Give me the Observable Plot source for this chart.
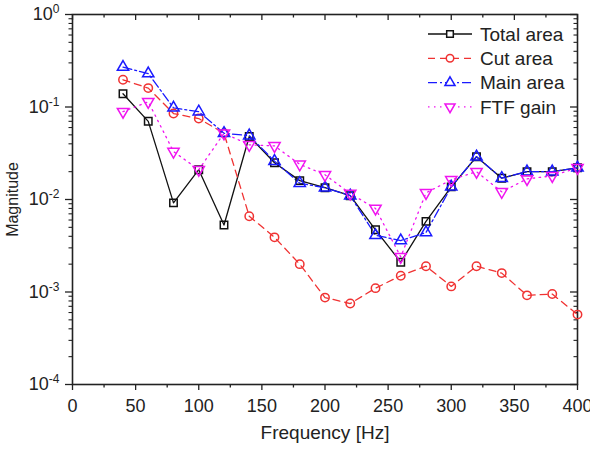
<!DOCTYPE html>
<html>
<head>
<meta charset="utf-8">
<script src="https://cdn.jsdelivr.net/npm/d3@7"></script>
<script src="https://cdn.jsdelivr.net/npm/@observablehq/plot@0.6"></script>
<style>
  html, body { margin: 0; padding: 0; background: #fff; }
  #chart { width: 590px; height: 454px; }
</style>
</head>
<body>
<div id="chart"></div>
<script>
// ---- data ----
const freq = [40, 60, 80, 100, 120, 140, 160, 180, 200, 220, 240, 260, 280, 300, 320, 340, 360, 380, 400];
const totalArea = [0.139, 0.070, 0.0092, 0.021, 0.0053, 0.048, 0.025, 0.016, 0.0134, 0.011, 0.0047, 0.0021, 0.0058, 0.0137, 0.029, 0.017, 0.020, 0.020, 0.022];
const cutArea = [0.197, 0.16, 0.085, 0.075, 0.052, 0.0066, 0.0039, 0.0020, 0.00087, 0.00075, 0.0011, 0.0015, 0.0019, 0.00115, 0.0019, 0.0016, 0.00092, 0.00095, 0.00057];
const mainArea = [0.27, 0.23, 0.098, 0.089, 0.052, 0.049, 0.026, 0.015, 0.0134, 0.011, 0.0041, 0.0036, 0.0044, 0.0137, 0.029, 0.017, 0.020, 0.020, 0.022];
const ftfGain = [0.089, 0.114, 0.033, 0.021, 0.052, 0.039, 0.038, 0.024, 0.0185, 0.0116, 0.0080, 0.0024, 0.0118, 0.0163, 0.020, 0.0121, 0.0167, 0.018, 0.022];

const seriesNames = ["Total area", "Cut area", "Main area", "FTF gain"];
const seriesValues = [totalArea, cutArea, mainArea, ftfGain];

const xTicks = [0, 50, 100, 150, 200, 250, 300, 350, 400];
const xMinorTicks = [25, 75, 125, 175, 225, 275, 325, 375];
const yTicks = [1e-4, 1e-3, 1e-2, 1e-1, 1];
const yTickLabels = ["10|-4", "10|-3", "10|-2", "10|-1", "10|0"];
const xLabel = "Frequency [Hz]";
const yLabel = "Magnitude";

// ---- styles ----
const styles = {
  "Total area": {color: "#111111", dash: null, symbol: "square", rotate: 0, d3sym: d3.symbolSquare},
  "Cut area": {color: "#f03232", dash: "7,5", symbol: "circle", rotate: 0, d3sym: d3.symbolCircle},
  "Main area": {color: "#1a1aff", dash: "9,3,2,3", symbol: "triangle", rotate: 0, d3sym: d3.symbolTriangle},
  "FTF gain": {color: "#f014f0", dash: "1.5,4.5", symbol: "triangle", rotate: 180, d3sym: d3.symbolTriangle}
};

// minor log ticks
const yMinorTicks = [];
for (const p of [1e-4, 1e-3, 1e-2, 1e-1]) for (let k = 2; k <= 9; k++) yMinorTicks.push(+(k * p).toPrecision(3));

const W = 590, H = 454, mL = 72, mR = 13, mT = 14, mB = 70;
const innerW = W - mL - mR, innerH = H - mT - mB;

const seriesMarks = [];
seriesNames.forEach((name, i) => {
  const rows = freq.map((f, j) => ({f, v: seriesValues[i][j]}));
  const s = styles[name];
  seriesMarks.push(Plot.line(rows, {x: "f", y: "v", stroke: s.color, strokeWidth: 1.3, strokeDasharray: s.dash}));
});
seriesNames.forEach((name, i) => {
  const rows = freq.map((f, j) => ({f, v: seriesValues[i][j]}));
  const s = styles[name];
  seriesMarks.push(Plot.dot(rows, {x: "f", y: "v", symbol: s.symbol, r: 4.2, rotate: s.rotate, stroke: s.color, strokeWidth: 1.5, fill: "white", fillOpacity: 0}));
});

const labelMap = new Map(yTicks.map((t, i) => [t, yTickLabels[i]]));

const plot = Plot.plot({
  width: W, height: H,
  marginLeft: mL, marginRight: mR, marginTop: mT, marginBottom: mB,
  style: {fontFamily: "'Liberation Sans', Arial, sans-serif", fontSize: "18px", background: "white", color: "#222"},
  x: {domain: [0, 400]},
  y: {type: "log", domain: [1e-4, 1]},
  marks: [
    // bottom axis
    Plot.axisX({ticks: xTicks, tickSize: 6, tickPadding: 9, tickFormat: d => String(d), label: null, strokeWidth: 1.3}),
    Plot.axisX({ticks: xMinorTicks, tickSize: 3.5, tickFormat: () => "", label: null, strokeWidth: 1.3}),
    // top inward ticks
    Plot.axisX({ticks: xTicks, tickSize: 6, dy: -innerH, tickFormat: () => "", label: null, strokeWidth: 1.3}),
    Plot.axisX({ticks: xMinorTicks, tickSize: 3.5, dy: -innerH, tickFormat: () => "", label: null, strokeWidth: 1.3}),
    // left axis
    Plot.axisY({ticks: yTicks, tickSize: 7, tickPadding: 6, tickFormat: d => labelMap.get(d) ?? "", label: null, strokeWidth: 1.3}),
    Plot.axisY({ticks: yMinorTicks, tickSize: 3.5, tickFormat: () => "", label: null, strokeWidth: 1.1}),
    // right inward ticks
    Plot.axisY({ticks: yTicks, tickSize: 7, dx: innerW, tickFormat: () => "", label: null, strokeWidth: 1.3}),
    Plot.axisY({ticks: yMinorTicks, tickSize: 3.5, dx: innerW, tickFormat: () => "", label: null, strokeWidth: 1.1}),
    Plot.frame({stroke: "#222", strokeWidth: 1.6}),
    ...seriesMarks,
    Plot.text([xLabel], {frameAnchor: "bottom", dy: 54, text: d => d, fontSize: 19, fill: "#222", textAnchor: "middle"}),
    Plot.text([yLabel], {frameAnchor: "left", dx: -60, rotate: -90, text: d => d, fontSize: 16, fill: "#222", textAnchor: "middle"})
  ]
});

document.getElementById("chart").appendChild(plot);

// superscript exponents on y tick labels
d3.select(plot).selectAll("text").each(function () {
  const t = this.textContent;
  if (t.includes("|") && this.childElementCount === 0) {
    const [base, exp] = t.split("|");
    const sel = d3.select(this);
    sel.text("");
    sel.append("tspan").text(base);
    sel.append("tspan").attr("font-size", "12px").attr("dy", "-7").text(exp);
  }
});

// legend inside the plot (top right)
const lg = d3.select(plot).append("g").attr("class", "legend");
seriesNames.forEach((name, i) => {
  const s = styles[name];
  const y = 34 + i * 24.3;
  lg.append("line")
    .attr("x1", 428).attr("x2", 472).attr("y1", y).attr("y2", y)
    .attr("stroke", s.color).attr("stroke-width", 1.3)
    .attr("stroke-dasharray", s.dash);
  lg.append("path")
    .attr("d", d3.symbol(s.d3sym, 44)())
    .attr("transform", `translate(450,${y}) rotate(${s.rotate})`)
    .attr("fill", "white").attr("stroke", s.color).attr("stroke-width", 1.5);
  lg.append("text")
    .attr("x", 480).attr("y", y).attr("dy", "0.36em")
    .attr("text-anchor", "start")
    .attr("font-size", 19).attr("fill", "#222")
    .text(name);
});
</script>
</body>
</html>
